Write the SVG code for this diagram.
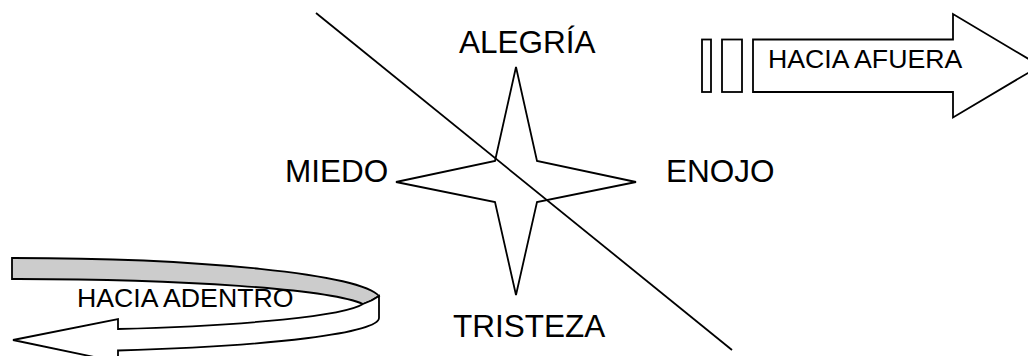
<svg xmlns="http://www.w3.org/2000/svg" width="1028" height="356" viewBox="0 0 1028 356">
<style>
.sh{fill:#ffffff;stroke:#000000;stroke-width:1.8;stroke-linejoin:miter}
.gr{fill:#cccccc;stroke:#000000;stroke-width:1.8}
.lbl{font-family:"Liberation Sans",Arial,sans-serif;font-size:31.5px;fill:#000000}
.sm{font-family:"Liberation Sans",Arial,sans-serif;font-size:26.7px;fill:#000000}
</style>
<rect width="1028" height="356" fill="#ffffff"/>
<g id="star">
<polygon class="sh" points="516,67 537,161 636,182 537,202 516,295 495,202 396,182 495,161"/>
</g>
<g id="connectors">
<line x1="316" y1="13" x2="732" y2="350" stroke="#000000" stroke-width="1.8"/>
</g>
<g id="alegria"><text class="lbl" x="459" y="53">ALEGRÍA</text></g>
<g id="miedo"><text class="lbl" x="285" y="182">MIEDO</text></g>
<g id="enojo"><text class="lbl" x="666" y="182">ENOJO</text></g>
<g id="tristeza"><text class="lbl" x="453" y="337">TRISTEZA</text></g>
<g id="hacia-afuera">
<rect class="sh" x="702" y="39.5" width="9" height="52.5"/>
<rect class="sh" x="722" y="39.5" width="20" height="52.5"/>
<polygon class="sh" points="753,39.5 953,39.5 953,14 1040,65.8 953,117.5 953,92 753,92"/>
<text class="sm" x="768" y="68">HACIA AFUERA</text>
</g>
<g id="hacia-adentro">
<path class="gr" d="M12,258 A367,42 0 0 1 379,296 Q372,301 363,304 A352,31 0 0 0 12,279 Z"/>
<path class="sh" d="M379,296 L379,318 A367,34 0 0 1 118,350.5 L118,362 L13,340 L118,319 L118,329 A352,30.4 0 0 0 363,304 Q372,301 379,296 Z"/>
<text class="sm" x="77" y="307">HACIA ADENTRO</text>
</g>
</svg>
